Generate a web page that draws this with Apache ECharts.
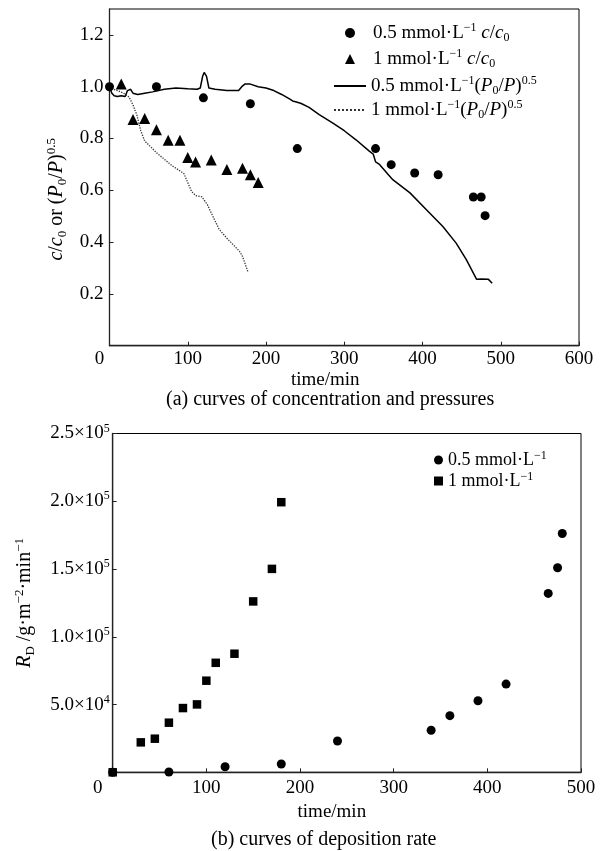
<!DOCTYPE html>
<html><head><meta charset="utf-8">
<script src="https://cdn.jsdelivr.net/npm/echarts@6/dist/echarts.min.js"></script>
<style>html,body{margin:0;padding:0;background:#fff;}#c{width:604px;height:851px;}</style>
</head><body><div id="c"></div>
<script>
// ---- Data: chart (a) ----
var c05_t = [0, 60, 120, 180, 240, 340, 360, 390, 420, 465, 475, 480];
var c05_v = [1.0, 1.0, 0.957, 0.934, 0.761, 0.761, 0.699, 0.667, 0.66, 0.574, 0.574, 0.502];
var c1_t = [15, 30, 45, 60, 75, 90, 100, 110, 130, 150, 170, 180, 190];
var c1_v = [1.01, 0.873, 0.877, 0.834, 0.793, 0.793, 0.727, 0.709, 0.717, 0.68, 0.685, 0.66, 0.63];
var p05_t = [0, 3, 6, 10, 15, 20, 23, 27, 30, 36, 45, 55, 70, 85, 100, 112, 116, 119, 121, 124, 127, 135, 150, 165, 169, 173, 180, 190, 200, 210, 220, 230, 234, 240, 245, 255, 268, 285, 300, 315, 332, 337, 340, 345, 362, 384, 405, 426, 443, 456, 469, 476, 484, 489];
var p05_v = [1.0, 0.975, 0.965, 0.962, 0.965, 0.962, 0.985, 0.99, 0.975, 0.97, 0.975, 0.98, 0.99, 0.995, 0.992, 0.99, 0.995, 1.04, 1.055, 1.04, 0.995, 0.99, 0.985, 0.985, 1.0, 1.01, 1.01, 1.0, 0.995, 0.985, 0.97, 0.953, 0.945, 0.94, 0.935, 0.92, 0.892, 0.86, 0.83, 0.795, 0.751, 0.74, 0.71, 0.7, 0.641, 0.59, 0.525, 0.46, 0.396, 0.332, 0.257, 0.258, 0.257, 0.241];
var p1_t = [0, 5, 10, 18, 25, 30, 35, 40, 45, 52, 60, 70, 80, 90, 95, 100, 105, 110, 118, 125, 132, 140, 150, 158, 166, 170, 174, 177];
var p1_v = [1.0, 0.99, 0.985, 0.975, 0.96, 0.93, 0.89, 0.83, 0.79, 0.77, 0.745, 0.72, 0.695, 0.675, 0.665, 0.63, 0.595, 0.58, 0.575, 0.545, 0.5, 0.45, 0.415, 0.39, 0.365, 0.345, 0.31, 0.285];
// ---- Data: chart (b) ----
var r05_t = [0, 60, 120, 180, 240, 340, 360, 390, 420, 465, 475, 480];
var r05_v = [0, 200, 4100, 6100, 23100, 31000, 41800, 52800, 65100, 132000, 150900, 176200];
var r1_t = [0, 30, 45, 60, 75, 90, 100, 110, 130, 150, 170, 180];
var r1_v = [0, 22100, 24800, 36600, 47400, 50100, 67600, 80800, 87500, 126100, 150100, 199300];

function pairs(a, b) { return a.map(function (x, i) { return [x, b[i]]; }); }

var FONT = 'Liberation Serif';
var BLACK = '#000';
var rich = {
  n: {fontFamily: FONT, fontSize: 20, color: BLACK, lineHeight: 24, verticalAlign: 'middle'},
  i: {fontFamily: FONT, fontSize: 20, color: BLACK, fontStyle: 'italic', lineHeight: 24, verticalAlign: 'middle'},
  sup: {fontFamily: FONT, fontSize: 13, color: BLACK, lineHeight: 14, verticalAlign: 'top'},
  sub: {fontFamily: FONT, fontSize: 13, color: BLACK, lineHeight: 12, verticalAlign: 'bottom'},
  t: {fontFamily: FONT, fontSize: 19, color: BLACK, lineHeight: 22, verticalAlign: 'middle'},
  ts: {fontFamily: FONT, fontSize: 12, color: BLACK, lineHeight: 12, verticalAlign: 'top'},
  z: {fontFamily: FONT, fontSize: 19, color: BLACK, padding: [0, 20, 0, 0]},
  z2: {fontFamily: FONT, fontSize: 19, color: BLACK, padding: [0, 30, 0, 0]}
};
var richL = {
  f: {fontFamily: FONT, fontSize: 19, color: BLACK, lineHeight: 22, verticalAlign: 'middle', padding: [0, 0, 0, 13]},
  n: {fontFamily: FONT, fontSize: 19, color: BLACK, lineHeight: 22, verticalAlign: 'middle'},
  i: {fontFamily: FONT, fontSize: 19, color: BLACK, fontStyle: 'italic', lineHeight: 22, verticalAlign: 'middle'},
  sup: {fontFamily: FONT, fontSize: 12, color: BLACK, lineHeight: 12, verticalAlign: 'top'},
  sub: {fontFamily: FONT, fontSize: 12, color: BLACK, lineHeight: 10, verticalAlign: 'bottom'}
};
var richL2 = {
  n: {fontFamily: FONT, fontSize: 18, color: BLACK, lineHeight: 20, verticalAlign: 'middle'},
  sup: {fontFamily: FONT, fontSize: 12, color: BLACK, lineHeight: 12, verticalAlign: 'top'}
};

var legendNames = {
  'c05': '{f|0.5 mmol·L}{sup|−1}{n| }{i|c}{n|/}{i|c}{sub|0}',
  'c1': '{f|1 mmol·L}{sup|−1}{n| }{i|c}{n|/}{i|c}{sub|0}',
  'p05': '{n|0.5 mmol·L}{sup|−1}{n|(}{i|P}{sub|0}{n|/}{i|P}{n|)}{sup|0.5}',
  'p1': '{n|1 mmol·L}{sup|−1}{n|(}{i|P}{sub|0}{n|/}{i|P}{n|)}{sup|0.5}',
  'r05': '{n|0.5 mmol·L}{sup|−1}',
  'r1': '{n|1 mmol·L}{sup|−1}'
};

function sciLabel(v) {
  if (v === 0) return '';
  var e = Math.floor(Math.log10(v));
  var m = v / Math.pow(10, e);
  return '{t|' + m.toFixed(1) + '×10}{ts|' + e + '}';
}

var axisCommon = {
  axisLine: {show: true, lineStyle: {color: '#222', width: 1.3}},
  axisTick: {show: true, inside: true, length: 4, lineStyle: {color: '#222'}},
  splitLine: {show: false}
};
var hideSym = {opacity: 0};

var chart = echarts.init(document.getElementById('c'), null, {renderer: 'canvas'});
chart.setOption({
  animation: false,
  backgroundColor: '#fff',
  title: [
    {text: '(a) curves of concentration and pressures', left: 166, top: 390, padding: 0,
     textStyle: {fontFamily: FONT, fontSize: 20, fontWeight: 'normal', color: BLACK}},
    {text: '(b) curves of deposition rate', left: 211, top: 830, padding: 0,
     textStyle: {fontFamily: FONT, fontSize: 20, fontWeight: 'normal', color: BLACK}}
  ],
  grid: [
    {left: 109.5, top: 9, width: 469.5, height: 336.7, show: true, borderColor: '#000', borderWidth: 1},
    {left: 112.7, top: 433.5, width: 468.3, height: 338.8, show: true, borderColor: '#000', borderWidth: 1}
  ],
  legend: [
    {data: [{name: 'c05', icon: 'circle'}, {name: 'c1', icon: 'triangle'}], orient: 'vertical', left: 345, top: 22, padding: 0,
     itemWidth: 10, itemHeight: 10, itemGap: 4,
     formatter: function (n) { return legendNames[n]; },
     textStyle: {rich: richL}},
    {data: [{name: 'p05', itemStyle: hideSym}, {name: 'p1', itemStyle: hideSym}], orient: 'vertical', left: 333, top: 75, padding: 0,
     itemWidth: 32, itemHeight: 10, itemGap: 2,
     formatter: function (n) { return legendNames[n]; },
     textStyle: {rich: richL}},
    {data: [{name: 'r05', icon: 'circle'}, {name: 'r1', icon: 'rect'}], orient: 'vertical', left: 434, top: 450, padding: 0,
     itemWidth: 9, itemHeight: 9, itemGap: 2,
     formatter: function (n) { return legendNames[n]; },
     textStyle: {rich: richL2}}
  ],
  xAxis: [
    Object.assign({}, axisCommon, {
      type: 'value', gridIndex: 0, min: 0, max: 600, interval: 100,
      name: 'time/min', nameLocation: 'middle', nameGap: 25,
      nameTextStyle: {fontFamily: FONT, fontSize: 19, color: BLACK, padding: [0, 38, 0, 0]},
      axisLabel: {margin: 4, fontFamily: FONT, fontSize: 19, color: BLACK, rich: rich,
        formatter: function (v) { return v === 0 ? '{z|0}' : String(v); }}
    }),
    Object.assign({}, axisCommon, {
      type: 'value', gridIndex: 1, min: 0, max: 500, interval: 100,
      name: 'time/min', nameLocation: 'middle', nameGap: 30,
      nameTextStyle: {fontFamily: FONT, fontSize: 19, color: BLACK, padding: [0, 30, 0, 0]},
      axisLabel: {margin: 6, fontFamily: FONT, fontSize: 19, color: BLACK, rich: rich,
        formatter: function (v) { return v === 0 ? '{z2|0}' : String(v); }}
    })
  ],
  yAxis: [
    Object.assign({}, axisCommon, {
      type: 'value', gridIndex: 0, min: 0, max: 1.3, interval: 0.2,
      name: '{i|c}{n|/}{i|c}{sub|0}{n| or (}{i|P}{sub|0}{n|/}{i|P}{n|)}{sup|0.5}',
      nameLocation: 'middle', nameGap: 36,
      nameTextStyle: {rich: rich, padding: [0, 44, 0, 0]},
      axisLabel: {margin: 6, fontFamily: FONT, fontSize: 19, color: BLACK, showMaxLabel: false,
        formatter: function (v) { if (v === 0 || Math.abs(v * 5 - Math.round(v * 5)) > 1e-6) return ''; return v.toFixed(1); }}
    }),
    Object.assign({}, axisCommon, {
      type: 'value', gridIndex: 1, min: 0, max: 250000, interval: 50000,
      name: '{i|R}{sub|D}{n| /g·m}{sup|−2}{n|·min}{sup|−1}',
      nameLocation: 'middle', nameGap: 76,
      nameTextStyle: {rich: rich},
      axisLabel: {margin: 3, rich: rich, formatter: sciLabel}
    })
  ],
  series: [
    {name: 'p05', type: 'line', xAxisIndex: 0, yAxisIndex: 0, data: pairs(p05_t, p05_v),
     symbol: 'none', lineStyle: {color: '#000', width: 1.5}, itemStyle: {color: '#000'}, z: 2},
    {name: 'p1', type: 'line', xAxisIndex: 0, yAxisIndex: 0, data: pairs(p1_t, p1_v),
     symbol: 'none', lineStyle: {color: '#333', width: 1.3, type: 'dotted'}, itemStyle: {color: '#333'}, z: 2},
    {name: 'c05', type: 'scatter', xAxisIndex: 0, yAxisIndex: 0, data: pairs(c05_t, c05_v),
     symbol: 'circle', symbolSize: 9, itemStyle: {color: '#000', opacity: 1}, z: 4},
    {name: 'c1', type: 'scatter', xAxisIndex: 0, yAxisIndex: 0, data: pairs(c1_t, c1_v),
     symbol: 'triangle', symbolSize: 11, itemStyle: {color: '#000', opacity: 1}, z: 3},
    {name: 'r05', type: 'scatter', xAxisIndex: 1, yAxisIndex: 1, data: pairs(r05_t, r05_v),
     symbol: 'circle', symbolSize: 9, itemStyle: {color: '#000', opacity: 1}, z: 3},
    {name: 'r1', type: 'scatter', xAxisIndex: 1, yAxisIndex: 1, data: pairs(r1_t, r1_v),
     symbol: 'rect', symbolSize: 8.5, itemStyle: {color: '#000', opacity: 1}, z: 4}
  ]
});
</script>
</body></html>
